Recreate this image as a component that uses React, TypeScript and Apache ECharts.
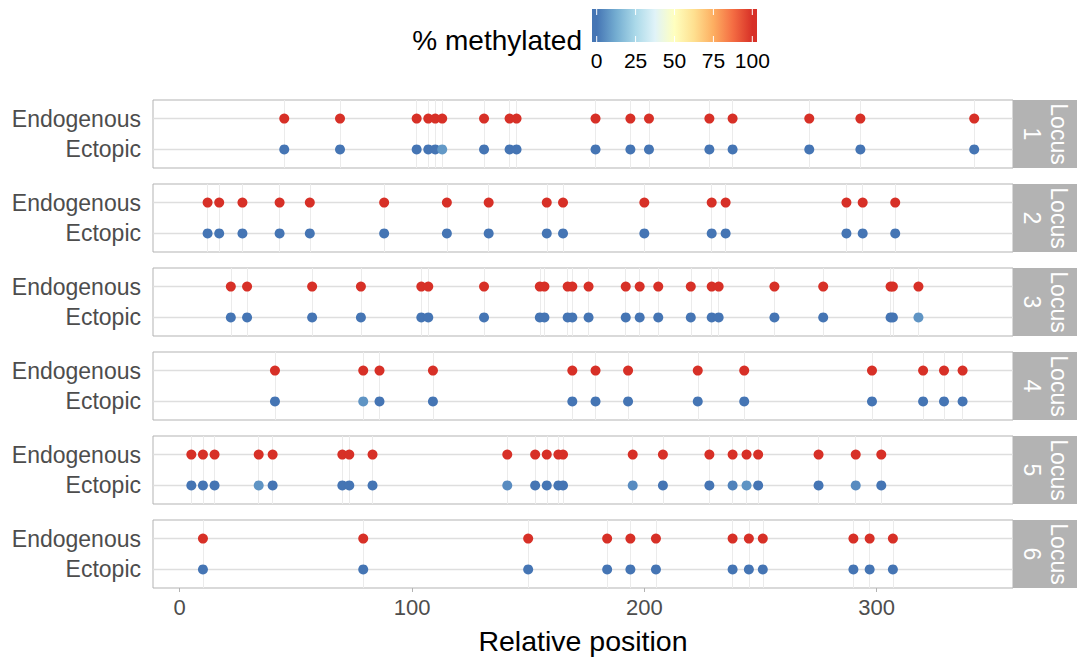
import React, { useEffect, useRef } from "react";
import * as echarts from "echarts";

const CATEGORIES = ["Ectopic", "Endogenous"];
const LOCUS_LABELS = ["1", "2", "3", "4", "5", "6"];
const X_TICKS = [0, 100, 200, 300];
const LEGEND_TICKS = [0, 25, 50, 75, 100];

const locus1Positions = [45, 69, 102, 107, 110, 113, 131, 142, 145, 179, 194, 202, 228, 238, 271, 293, 342];
const locus1Ectopic = [0, 0, 0, 0, 0, 8, 0, 0, 0, 0, 0, 0, 0, 0, 0, 0, 0];
const locus1Endogenous = [100, 100, 100, 100, 100, 100, 100, 100, 100, 100, 100, 100, 100, 100, 100, 100, 100];

const locus2Positions = [12, 17, 27, 43, 56, 88, 115, 133, 158, 165, 200, 229, 235, 287, 294, 308];
const locus2Ectopic = [0, 0, 0, 0, 0, 0, 0, 0, 0, 0, 0, 0, 0, 0, 0, 0];
const locus2Endogenous = [100, 100, 100, 100, 100, 100, 100, 100, 100, 100, 100, 100, 100, 100, 100, 100];

const locus3Positions = [22, 29, 57, 78, 104, 107, 131, 155, 157, 167, 169, 176, 192, 198, 206, 220, 229, 232, 256, 277, 306, 307, 318];
const locus3Ectopic = [0, 0, 0, 0, 0, 0, 0, 0, 0, 0, 0, 0, 0, 0, 0, 0, 0, 0, 0, 0, 0, 0, 7];
const locus3Endogenous = [100, 100, 100, 100, 100, 100, 100, 100, 100, 100, 100, 100, 100, 100, 100, 100, 100, 100, 100, 100, 100, 100, 100];

const locus4Positions = [41, 79, 86, 109, 169, 179, 193, 223, 243, 298, 320, 329, 337];
const locus4Ectopic = [0, 7, 0, 0, 0, 0, 0, 0, 0, 0, 0, 0, 0];
const locus4Endogenous = [100, 100, 100, 100, 100, 100, 100, 100, 100, 100, 100, 100, 100];

const locus5Positions = [5, 10, 15, 34, 40, 70, 73, 83, 141, 153, 158, 163, 165, 195, 208, 228, 238, 244, 249, 275, 291, 302];
const locus5Ectopic = [0, 0, 0, 7, 0, 0, 0, 0, 5, 0, 0, 0, 0, 5, 0, 0, 3, 7, 0, 0, 5, 0];
const locus5Endogenous = [100, 100, 100, 100, 100, 100, 100, 100, 100, 100, 100, 100, 100, 100, 100, 100, 100, 100, 100, 100, 100, 100];

const locus6Positions = [10, 79, 150, 184, 194, 205, 238, 245, 251, 290, 297, 307];
const locus6Ectopic = [0, 0, 0, 0, 0, 0, 0, 0, 0, 0, 0, 0];
const locus6Endogenous = [100, 100, 100, 100, 100, 100, 100, 100, 100, 100, 100, 100];

const LOCI = [
  { pos: locus1Positions, ect: locus1Ectopic, endo: locus1Endogenous },
  { pos: locus2Positions, ect: locus2Ectopic, endo: locus2Endogenous },
  { pos: locus3Positions, ect: locus3Ectopic, endo: locus3Endogenous },
  { pos: locus4Positions, ect: locus4Ectopic, endo: locus4Endogenous },
  { pos: locus5Positions, ect: locus5Ectopic, endo: locus5Endogenous },
  { pos: locus6Positions, ect: locus6Ectopic, endo: locus6Endogenous },
];

const PALETTE = ["#4575b4", "#74add1", "#abd9e9", "#e0f3f8", "#ffffbf", "#fee090", "#fdae61", "#f46d43", "#d73027"];

const FONT = "'Liberation Sans', Arial, Helvetica, sans-serif";

export default function App() {
  const ref = useRef<HTMLDivElement>(null);

  useEffect(() => {
    if (!ref.current) return;
    const chart = echarts.init(ref.current, null, { renderer: "svg" });

    const left = 153;
    const right = 1013;
    const stripW = 64;
    const top0 = 100;
    const step = 84;
    const h = 68;
    const xMin = -11.5;
    const xMax = 358.7;

    const grids: any[] = [];
    const xAxes: any[] = [];
    const yAxes: any[] = [];
    const series: any[] = [];
    const graphics: any[] = [];
    const scatterIdx: number[] = [];

    LOCI.forEach((loc, i) => {
      const top = top0 + i * step;
      const isLast = i === LOCI.length - 1;
      grids.push({
        left,
        top,
        width: right - left,
        height: h,
        show: true,
        borderColor: "#b3b3b3",
        borderWidth: 1,
        backgroundColor: "#ffffff",
      });
      xAxes.push({
        type: "value",
        gridIndex: i,
        min: xMin,
        max: xMax,
        axisLine: { show: false },
        splitLine: { show: false },
        axisTick: {
          show: isLast,
          customValues: X_TICKS,
          length: 4,
          lineStyle: { color: "#b3b3b3" },
        },
        axisLabel: {
          show: isLast,
          customValues: X_TICKS,
          margin: 8,
          color: "#4d4d4d",
          fontSize: 22,
          fontFamily: FONT,
        },
        name: isLast ? "Relative position" : "",
        nameLocation: "middle",
        nameGap: 38,
        nameTextStyle: {
          color: "#000000",
          fontSize: 28.5,
          fontFamily: FONT,
          verticalAlign: "top",
        },
      });
      yAxes.push({
        type: "value",
        gridIndex: i,
        min: 0.4,
        max: 2.6,
        axisLine: { show: false },
        splitLine: { show: false },
        axisTick: {
          show: true,
          customValues: [1, 2],
          length: 4,
          lineStyle: { color: "#b3b3b3" },
        },
        axisLabel: {
          customValues: [1, 2],
          margin: 12,
          color: "#4d4d4d",
          fontSize: 23,
          fontFamily: FONT,
          formatter: (v: number) => CATEGORIES[Math.round(v) - 1] ?? "",
        },
      });

      // gridlines at data positions and categories
      series.push({
        type: "scatter",
        xAxisIndex: i,
        yAxisIndex: i,
        data: [],
        silent: true,
        z: 1,
        markLine: {
          silent: true,
          z: 1,
          symbol: ["none", "none"],
          label: { show: false },
          animation: false,
          data: [
            ...loc.pos.map((p) => ({ xAxis: p, lineStyle: { color: "#ebebeb", width: 1, type: "solid" } })),
            ...[1, 2].map((y) => ({ yAxis: y, lineStyle: { color: "#dedede", width: 1.3, type: "solid" } })),
          ],
        },
      });

      scatterIdx.push(series.length);
      series.push({
        type: "scatter",
        name: `Locus ${LOCUS_LABELS[i]} Endogenous`,
        xAxisIndex: i,
        yAxisIndex: i,
        symbolSize: 10,
        z: 6,
        itemStyle: { opacity: 1 },
        data: loc.pos.map((p, k) => [p, 2, loc.endo[k]]),
      });
      scatterIdx.push(series.length);
      series.push({
        type: "scatter",
        name: `Locus ${LOCUS_LABELS[i]} Ectopic`,
        xAxisIndex: i,
        yAxisIndex: i,
        symbolSize: 10,
        z: 6,
        itemStyle: { opacity: 1 },
        data: loc.pos.map((p, k) => [p, 1, loc.ect[k]]),
      });

      graphics.push({
        type: "rect",
        shape: { x: right, y: top, width: stripW, height: h },
        style: { fill: "#b3b3b3" },
        z: 10,
      });
      graphics.push({
        type: "text",
        x: right + stripW / 2,
        y: top + h / 2,
        rotation: -Math.PI / 2,
        z: 11,
        style: {
          text: `Locus\n${LOCUS_LABELS[i]}`,
          fill: "#ffffff",
          fontSize: 23,
          fontFamily: FONT,
          align: "center",
          verticalAlign: "middle",
          lineHeight: 27,
        },
      });
    });

    // Colour bar legend
    const barX = 592;
    const barY = 9;
    const barW = 165;
    const barH = 33;
    const v0 = 596.7;
    const v100 = 752.3;
    const toX = (v: number) => v0 + ((v100 - v0) * v) / 100;
    graphics.push({
      type: "text",
      x: 582,
      y: 40,
      style: {
        text: "% methylated",
        fill: "#000000",
        fontSize: 28,
        fontFamily: FONT,
        align: "right",
        verticalAlign: "middle",
      },
    });
    graphics.push({
      type: "rect",
      shape: { x: barX, y: barY, width: barW, height: barH },
      style: {
        fill: new echarts.graphic.LinearGradient(
          0,
          0,
          1,
          0,
          PALETTE.map((c, k) => {
            const v = (100 * k) / (PALETTE.length - 1);
            return { offset: (toX(v) - barX) / barW, color: c };
          })
        ),
      },
    });
    LEGEND_TICKS.forEach((t) => {
      const x = toX(t);
      graphics.push({
        type: "line",
        shape: { x1: x, y1: barY, x2: x, y2: barY + 6 },
        style: { stroke: "#ffffff", lineWidth: 1 },
      });
      graphics.push({
        type: "line",
        shape: { x1: x, y1: barY + barH - 6, x2: x, y2: barY + barH },
        style: { stroke: "#ffffff", lineWidth: 1 },
      });
      graphics.push({
        type: "text",
        x,
        y: 60,
        style: {
          text: String(t),
          fill: "#000000",
          fontSize: 21,
          fontFamily: FONT,
          align: "center",
          verticalAlign: "middle",
        },
      });
    });

    chart.setOption({
      animation: false,
      backgroundColor: "#ffffff",
      grid: grids,
      xAxis: xAxes,
      yAxis: yAxes,
      visualMap: {
        type: "continuous",
        show: false,
        min: 0,
        max: 100,
        dimension: 2,
        seriesIndex: scatterIdx,
        inRange: { color: PALETTE },
      },
      series,
      graphic: graphics,
    });

    return () => chart.dispose();
  }, []);

  return (
    <div
      ref={ref}
      style={{ position: "fixed", left: 0, top: 0, width: 1084, height: 661, background: "#fff" }}
    />
  );
}
